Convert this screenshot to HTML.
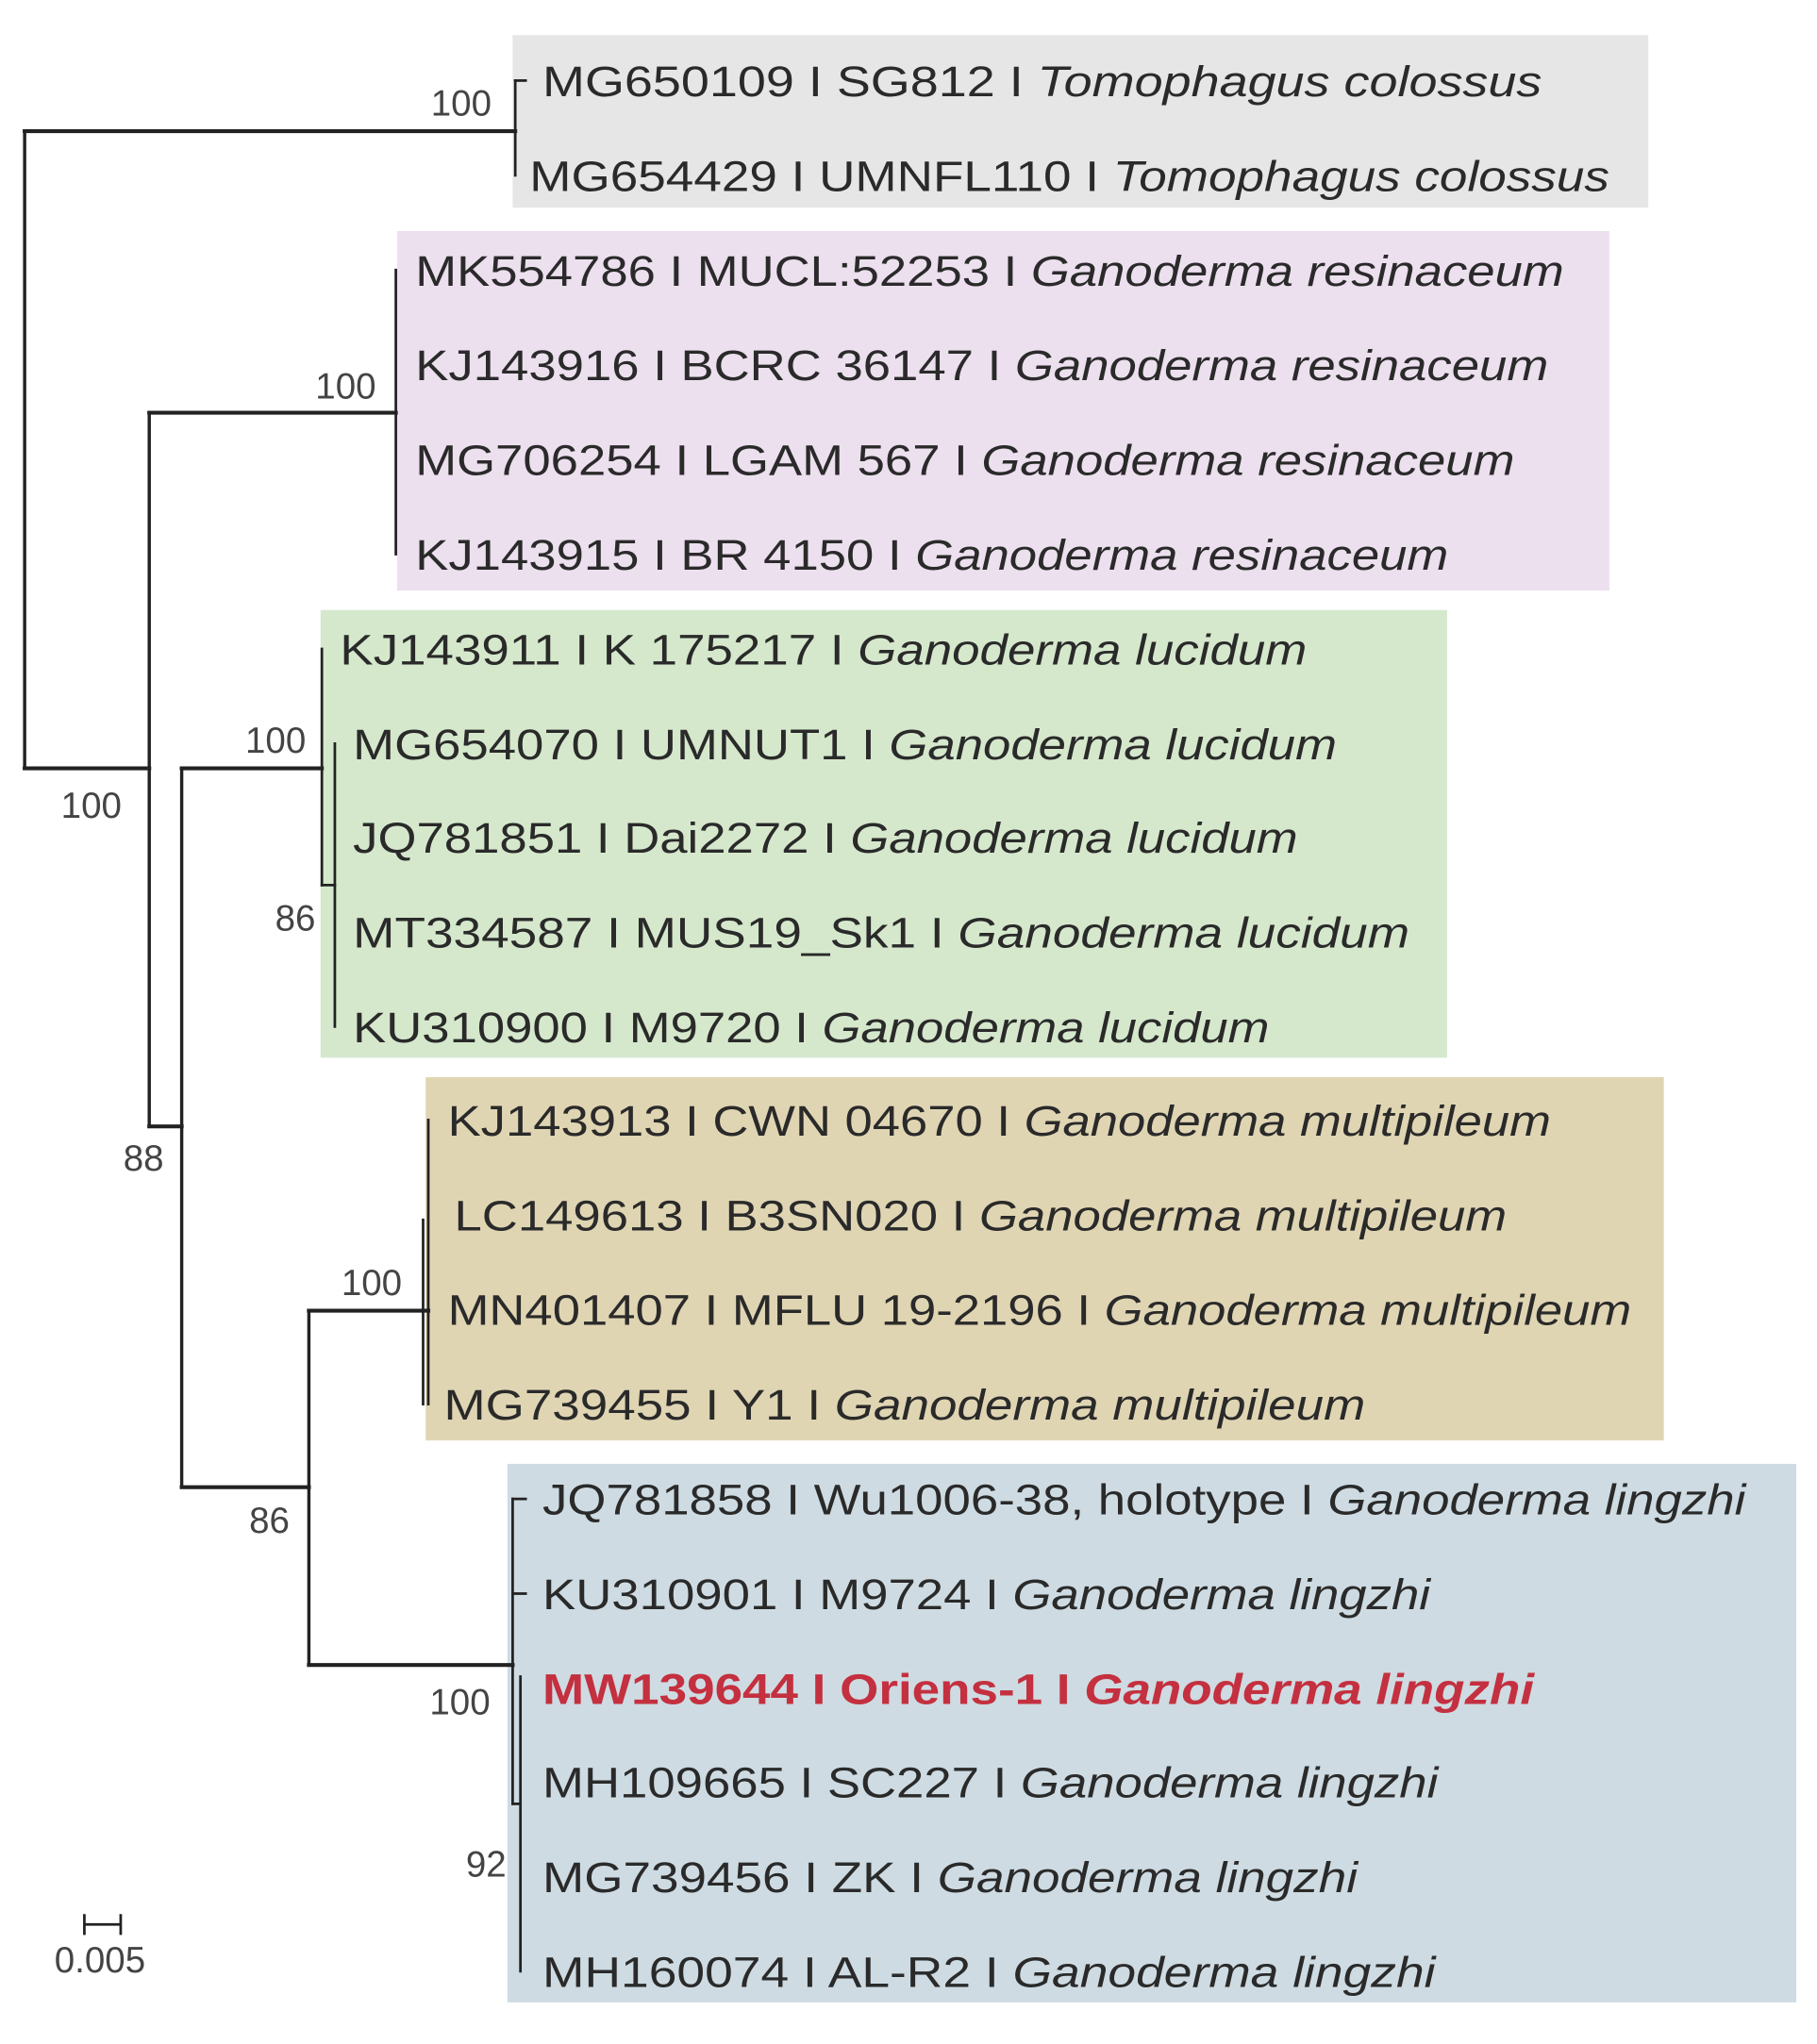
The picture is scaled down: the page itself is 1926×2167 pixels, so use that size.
<!DOCTYPE html>
<html><head><meta charset="utf-8"><style>
html,body{margin:0;padding:0;background:#fff;}
svg{display:block;}
text{font-family:"Liberation Sans",Arial,sans-serif;}
.t{font-size:33px;fill:#2a2a2a;}
.b{font-size:28px;fill:#444;}
</style></head><body>
<svg width="1926" height="2167" viewBox="0 0 1400 1575" xmlns="http://www.w3.org/2000/svg">
<rect x="0" y="0" width="1400" height="1575" fill="#fff"/>
<rect x="395" y="27" width="875" height="133" fill="#e6e6e6"/>
<rect x="306" y="178" width="934" height="277" fill="#ecdfee"/>
<rect x="247" y="470" width="868" height="345" fill="#d5e8cc"/>
<rect x="328" y="830" width="954" height="280" fill="#e0d5b3"/>
<rect x="391" y="1128" width="993" height="415" fill="#cedbe2"/>

<g stroke="#222" fill="none" stroke-linecap="square">
<path d="M19 101 V592" stroke-width="2.5"/>
<path d="M19 101 H397" stroke-width="3"/>
<path d="M397 62 V135" stroke-width="2"/>
<path d="M397 62 H405" stroke-width="2"/>
<path d="M19 592 H115" stroke-width="3"/>
<path d="M115 318 V868" stroke-width="2.5"/>
<path d="M115 318 H305" stroke-width="3"/>
<path d="M305 208 V427" stroke-width="2"/>
<path d="M115 868 H140" stroke-width="3"/>
<path d="M140 592 V1146" stroke-width="2.5"/>
<path d="M140 592 H248" stroke-width="3"/>
<path d="M248 500 V682" stroke-width="2"/>
<path d="M248 682 H258" stroke-width="2"/>
<path d="M258 573 V791" stroke-width="2"/>
<path d="M140 1146 H238" stroke-width="3"/>
<path d="M238 1010 V1283" stroke-width="2.5"/>
<path d="M238 1010 H330" stroke-width="3"/>
<path d="M330 863 V1082" stroke-width="2"/>
<path d="M326 940 V1082" stroke-width="2"/>
<path d="M238 1283 H395" stroke-width="3"/>
<path d="M395 1155 V1390" stroke-width="2"/>
<path d="M395 1155 H405 M395 1228 H405" stroke-width="2"/>
<path d="M395 1390 H401" stroke-width="2"/>
<path d="M401 1292 V1519" stroke-width="2"/>
<path d="M65 1476 V1490 M93 1476 V1490 M65 1483 H93" stroke-width="2"/>
</g>

<g class="b">
<text x="332" y="89">100</text>
<text x="243" y="307">100</text>
<text x="47" y="630">100</text>
<text x="189" y="580">100</text>
<text x="212" y="717">86</text>
<text x="95" y="902">88</text>
<text x="263" y="998">100</text>
<text x="192" y="1181">86</text>
<text x="331" y="1321">100</text>
<text x="359" y="1446">92</text>
<text x="42" y="1520">0.005</text>
</g>

<g class="t">
<text x="418" y="74" textLength="770" lengthAdjust="spacingAndGlyphs">MG650109 I SG812 I <tspan font-style="italic">Tomophagus colossus</tspan></text>
<text x="408" y="147" textLength="832" lengthAdjust="spacingAndGlyphs">MG654429 I UMNFL110 I <tspan font-style="italic">Tomophagus colossus</tspan></text>
<text x="320" y="220" textLength="885" lengthAdjust="spacingAndGlyphs">MK554786 I MUCL:52253 I <tspan font-style="italic">Ganoderma resinaceum</tspan></text>
<text x="320" y="293" textLength="873" lengthAdjust="spacingAndGlyphs">KJ143916 I BCRC 36147 I <tspan font-style="italic">Ganoderma resinaceum</tspan></text>
<text x="320" y="366" textLength="847" lengthAdjust="spacingAndGlyphs">MG706254 I LGAM 567 I <tspan font-style="italic">Ganoderma resinaceum</tspan></text>
<text x="320" y="439" textLength="796" lengthAdjust="spacingAndGlyphs">KJ143915 I BR 4150 I <tspan font-style="italic">Ganoderma resinaceum</tspan></text>
<text x="262" y="512" textLength="745" lengthAdjust="spacingAndGlyphs">KJ143911 I K 175217 I <tspan font-style="italic">Ganoderma lucidum</tspan></text>
<text x="272" y="585" textLength="758" lengthAdjust="spacingAndGlyphs">MG654070 I UMNUT1 I <tspan font-style="italic">Ganoderma lucidum</tspan></text>
<text x="272" y="657" textLength="728" lengthAdjust="spacingAndGlyphs">JQ781851 I Dai2272 I <tspan font-style="italic">Ganoderma lucidum</tspan></text>
<text x="272" y="730" textLength="814" lengthAdjust="spacingAndGlyphs">MT334587 I MUS19_Sk1 I <tspan font-style="italic">Ganoderma lucidum</tspan></text>
<text x="272" y="803" textLength="706" lengthAdjust="spacingAndGlyphs">KU310900 I M9720 I <tspan font-style="italic">Ganoderma lucidum</tspan></text>
<text x="345" y="875" textLength="850" lengthAdjust="spacingAndGlyphs">KJ143913 I CWN 04670 I <tspan font-style="italic">Ganoderma multipileum</tspan></text>
<text x="350" y="948" textLength="811" lengthAdjust="spacingAndGlyphs">LC149613 I B3SN020 I <tspan font-style="italic">Ganoderma multipileum</tspan></text>
<text x="345" y="1021" textLength="912" lengthAdjust="spacingAndGlyphs">MN401407 I MFLU 19-2196 I <tspan font-style="italic">Ganoderma multipileum</tspan></text>
<text x="342" y="1094" textLength="710" lengthAdjust="spacingAndGlyphs">MG739455 I Y1 I <tspan font-style="italic">Ganoderma multipileum</tspan></text>
<text x="418" y="1167" textLength="927" lengthAdjust="spacingAndGlyphs">JQ781858 I Wu1006-38, holotype I <tspan font-style="italic">Ganoderma lingzhi</tspan></text>
<text x="418" y="1240" textLength="684" lengthAdjust="spacingAndGlyphs">KU310901 I M9724 I <tspan font-style="italic">Ganoderma lingzhi</tspan></text>
<text x="418" y="1313" textLength="764" lengthAdjust="spacingAndGlyphs" fill="#c4303f" font-weight="bold">MW139644 I Oriens-1 I <tspan font-style="italic">Ganoderma lingzhi</tspan></text>
<text x="418" y="1385" textLength="690" lengthAdjust="spacingAndGlyphs">MH109665 I SC227 I <tspan font-style="italic">Ganoderma lingzhi</tspan></text>
<text x="418" y="1458" textLength="628" lengthAdjust="spacingAndGlyphs">MG739456 I ZK I <tspan font-style="italic">Ganoderma lingzhi</tspan></text>
<text x="418" y="1531" textLength="688" lengthAdjust="spacingAndGlyphs">MH160074 I AL-R2 I <tspan font-style="italic">Ganoderma lingzhi</tspan></text>
</g>
</svg>
</body></html>
